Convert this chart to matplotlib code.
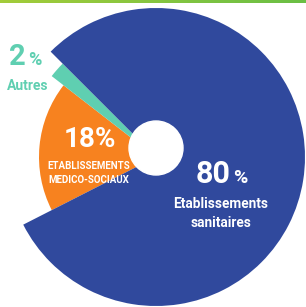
import numpy as np
import matplotlib
matplotlib.use("Agg")
import matplotlib.pyplot as plt
from matplotlib.colors import LinearSegmentedColormap

# data
shares = [80, 18, 2]
pct_text = ["80", "18", "2"]
names = ["Etablissements\nsanitaires", "ETABLISSEMENTS\nMEDICO-SOCIAUX", "Autres"]
colors = ["#30499d", "#f7821f", "#5fcfb1"]

plt.rcParams['font.family'] = ['Roboto', 'DejaVu Sans']

W, H = 306, 307
fig = plt.figure(figsize=(W / 100, H / 100), dpi=100)
ax = fig.add_axes([0, 0, 1, 1])

# pie centre and radii (pixels, y up)
cx, cy = 156, H - 157
wedges, _ = ax.pie(shares, colors=colors, startangle=135, counterclock=False,
                   center=(cx, cy), radius=149,
                   wedgeprops=dict(linewidth=0))
# the smaller slices are drawn shorter than the big one
wedges[1].set_radius(117)
wedges[2].set_radius(132)
wedges[0].set_zorder(3)

# white hole
ax.add_patch(plt.Circle((156, H - 148), 27, color="white", zorder=4))

# green band at the top
grad = LinearSegmentedColormap.from_list("g", ["#a3cc3a", "#6abf45"])
ax.imshow(np.linspace(0, 1, 100).reshape(1, -1), cmap=grad, aspect="auto",
          extent=[0, W, H - 3, H], zorder=5)

ax.set_xlim(0, W)
ax.set_ylim(0, H)
ax.set_aspect("auto")
ax.axis("off")

bold = dict(fontweight="bold", zorder=6)

# 2% Autres
ax.text(26, H - 65, pct_text[2], color=colors[2], fontsize=21, ha="right", va="baseline", **bold)
ax.text(28, H - 65, "%", color=colors[2], fontsize=13, ha="left", va="baseline", **bold)
ax.text(27.5, H - 90, names[2], color=colors[2], fontsize=10, ha="center", va="baseline", **bold)

# 18%
ax.text(90, H - 147, pct_text[1] + "%", color="white", fontsize=20, ha="center", va="baseline", **bold)
ax.text(89, H - 169, names[1].split("\n")[0], color="white", fontsize=7, ha="center", va="baseline", **bold)
ax.text(89, H - 183, names[1].split("\n")[1], color="white", fontsize=7, ha="center", va="baseline", **bold)

# 80%
ax.text(231, H - 183, pct_text[0], color="white", fontsize=22, ha="right", va="baseline", **bold)
ax.text(233, H - 183, "%", color="white", fontsize=14, ha="left", va="baseline", **bold)
ax.text(221, H - 208, names[0].split("\n")[0], color="white", fontsize=9.8, ha="center", va="baseline", **bold)
ax.text(221, H - 227, names[0].split("\n")[1], color="white", fontsize=9.8, ha="center", va="baseline", **bold)

fig.savefig("out.png", dpi=100)
